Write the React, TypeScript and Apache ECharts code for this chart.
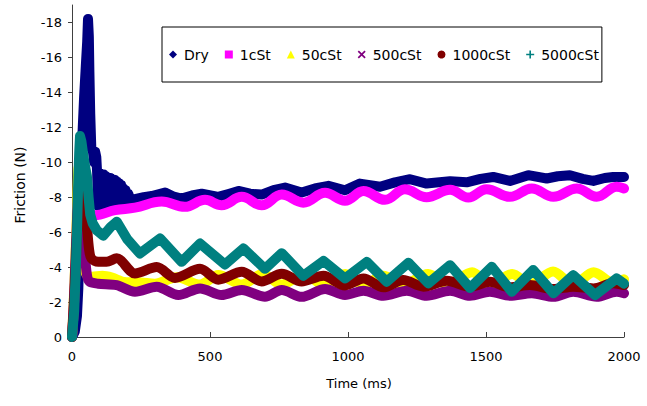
import React, { useEffect, useRef } from "react";
import * as echarts from "echarts";

const seriesNames = ["Dry", "1cSt", "50cSt", "500cSt", "1000cSt", "5000cSt"];
const seriesColors = ["#000080", "#FF00FF", "#FFFF00", "#800080", "#800000", "#008080"];
const seriesSmooth = [0, 0.4, 0.3, 0.3, 0.3, 0];
const X_ICON = "path://M0,1.5L1.5,0L5,3.5L8.5,0L10,1.5L6.5,5L10,8.5L8.5,10L5,6.5L1.5,10L0,8.5L3.5,5Z";
const PLUS_ICON = "path://M4,0H6V4H10V6H6V10H4V6H0V4H4Z";
const legendIcons = ["diamond", "rect", "triangle", X_ICON, "circle", PLUS_ICON];

const xTicks = [0, 500, 1000, 1500, 2000];
const yTicks = [0, -2, -4, -6, -8, -10, -12, -14, -16, -18];

// [time (ms), friction (N)]
const dry: [number, number][] = [
  [0, 0], [10, -0.3], [18, -1.2], [23, -2.8], [27, -5.5], [31, -8.3], [35, -10.5], [39, -12], [44, -13.8],
  [50, -15.5], [55, -16.9], [58, -18.2], [61, -17.2], [63, -15.2], [66, -12.8], [70, -10.8], [76, -10.6],
  [80, -10.0], [84, -10.6], [88, -10.3], [91, -9.4], [94, -7.5], [98, -9.4], [102, -7.5], [106, -9.3],
  [110, -7.5], [114, -9.3], [118, -7.5], [122, -9.2], [126, -7.5], [130, -9.1], [134, -7.5], [138, -9.1],
  [142, -7.6], [146, -9.0], [150, -7.6], [154, -9.0], [158, -7.6], [162, -8.9], [166, -7.6], [170, -8.8],
  [174, -7.7], [178, -8.7], [182, -7.7], [186, -8.5], [190, -7.7], [194, -8.4], [198, -7.8], [204, -8.2],
  [212, -7.8], [228, -7.89], [260, -8.0], [289, -8.07], [337, -8.27], [365, -8.05], [397, -7.92],
  [435, -8.1], [470, -8.2], [530, -8.02], [570, -8.2], [603, -8.36], [645, -8.2], [687, -8.15],
  [730, -8.4], [772, -8.55], [832, -8.27], [880, -8.5], [929, -8.65], [989, -8.4], [1043, -8.78],
  [1116, -8.6], [1170, -8.85], [1225, -9.03], [1285, -8.78], [1370, -8.92], [1430, -8.85], [1480, -9.05],
  [1526, -9.16], [1587, -8.93], [1653, -9.26], [1720, -9.07], [1760, -9.2], [1804, -9.26], [1850, -9.05],
  [1889, -8.93], [1930, -9.1], [1961, -9.16], [2000, -9.16],
];

const cSt1: [number, number][] = [
  [0, 0], [6, -1.5], [12, -3.5], [17, -5.5], [22, -7.2], [27, -8.2], [33, -8.0], [42, -7.5], [55, -7.1],
  [83, -6.97], [156, -7.26], [228, -7.4], [325, -7.75], [409, -7.45], [482, -7.85], [542, -7.54],
  [615, -8.02], [687, -7.54], [760, -8.15], [838, -7.69], [917, -8.25], [989, -7.8], [1056, -8.35],
  [1134, -7.85], [1206, -8.45], [1285, -8.0], [1370, -8.42], [1436, -7.98], [1502, -8.46], [1587, -8.02],
  [1666, -8.5], [1744, -8.02], [1829, -8.5], [1901, -8.02], [1973, -8.6], [2000, -8.5],
];

const cSt50: [number, number][] = [
  [0, 0], [6, -2], [11, -4], [16, -6.2], [20, -8.3], [24, -9.7], [28, -9.1], [33, -7.3], [38, -5.5],
  [44, -4.2], [52, -3.6], [72, -3.45], [110, -3.5], [145, -3.4], [190, -3.15], [250, -3.12], [300, -3.05],
  [380, -3.42], [464, -3.0], [530, -3.55], [615, -3.0], [690, -3.6], [760, -3.0], [840, -3.6], [911, -3.0],
  [990, -3.6], [1056, -3.0], [1128, -3.5], [1200, -3.0], [1290, -3.6], [1358, -3.0], [1450, -3.7],
  [1514, -3.0], [1595, -3.6], [1659, -3.0], [1743, -3.75], [1816, -3.0], [1890, -3.7], [1961, -3.1],
  [2000, -3.3],
];

const cSt500: [number, number][] = [
  [0, 0], [6, -1.8], [11, -3.8], [16, -5.8], [20, -7.4], [24, -8.2], [30, -7.8], [37, -6.6], [44, -5.2],
  [50, -4.1], [56, -3.4], [65, -3.15], [95, -3.05], [162, -2.97], [228, -2.59], [307, -2.88], [385, -2.4],
  [464, -2.78], [542, -2.4], [615, -2.69], [699, -2.3], [760, -2.69], [832, -2.3], [917, -2.75],
  [989, -2.4], [1056, -2.65], [1128, -2.36], [1213, -2.65], [1285, -2.36], [1370, -2.65], [1442, -2.36],
  [1514, -2.59], [1587, -2.36], [1666, -2.5], [1744, -2.3], [1816, -2.59], [1901, -2.3], [1973, -2.59],
  [2000, -2.5],
];

const cSt1000: [number, number][] = [
  [0, 0], [6, -1.5], [12, -3.5], [17, -5.5], [22, -7.5], [26, -9.0], [30, -9.9], [35, -9.7], [41, -9.1],
  [48, -7.8], [55, -6.2], [62, -5.0], [70, -4.5], [95, -4.3], [125, -4.3], [162, -4.5], [228, -3.64],
  [307, -4.0], [373, -3.38], [464, -3.9], [530, -3.28], [615, -3.73], [687, -3.18], [760, -3.62],
  [832, -3.18], [911, -3.5], [989, -2.95], [1056, -3.35], [1128, -2.84], [1200, -3.26], [1273, -2.88],
  [1358, -3.22], [1442, -2.88], [1514, -3.16], [1587, -2.84], [1659, -2.97], [1744, -2.74], [1816, -2.88],
  [1889, -2.78], [1961, -3.07], [2000, -2.97],
];

const cSt5000: [number, number][] = [
  [0, 0], [8, -1.5], [13, -3.5], [18, -6], [22, -8.5], [26, -10.5], [29, -11.5], [34, -11.2], [40, -10.5],
  [48, -9.7], [54, -9.2], [60, -8.0], [66, -7.0], [75, -6.5], [90, -6.1], [113, -5.8], [140, -6.3],
  [162, -6.6], [200, -5.6], [246, -4.78], [319, -5.64], [397, -4.3], [464, -5.35], [554, -4.15],
  [621, -5.07], [699, -3.9], [760, -4.8], [838, -3.5], [911, -4.35], [989, -3.35], [1068, -4.3],
  [1140, -3.16], [1219, -4.25], [1291, -3.07], [1370, -4.11], [1442, -2.8], [1521, -4.02], [1593, -2.59],
  [1671, -3.83], [1744, -2.5], [1816, -3.54], [1895, -2.4], [1973, -3.35], [2000, -3.05],
];

const allData = [dry, cSt1, cSt50, cSt500, cSt1000, cSt5000];

const FONT = "DejaVu Sans";

export default function App() {
  const ref = useRef<HTMLDivElement>(null);
  useEffect(() => {
    if (!ref.current) return;
    const chart = echarts.init(ref.current, null, { renderer: "svg" });
    chart.setOption({
      animation: false,
      backgroundColor: "#ffffff",
      grid: { left: 72, right: 23, top: 5, bottom: 69, containLabel: false },
      legend: {
        left: 162,
        top: 27,
        orient: "horizontal",
        backgroundColor: "#ffffff",
        borderColor: "#000000",
        borderWidth: 1,
        borderRadius: 0,
        padding: [20, 3, 20, 7],
        itemWidth: 8,
        itemHeight: 8,
        itemGap: 16,
        textStyle: { fontFamily: FONT, fontSize: 14, color: "#000", lineHeight: 15, padding: [0, 0, 0, 2] },
        data: seriesNames.map((n, i) => ({ name: n, icon: legendIcons[i], itemStyle: { color: seriesColors[i], borderWidth: 0 } })),
      },
      xAxis: {
        type: "value",
        min: 0,
        max: 2000,
        interval: 500,
        name: "Time (ms)",
        nameLocation: "middle",
        nameGap: 40,
        nameTextStyle: { fontFamily: FONT, fontSize: 13, color: "#000", padding: [0, 0, 0, 22] },
        axisLine: { show: true, onZero: false, lineStyle: { color: "#404040", width: 1 } },
        axisTick: { show: true, inside: true, length: 5, lineStyle: { color: "#404040" }, customValues: xTicks },
        axisLabel: {
          fontFamily: FONT, fontSize: 13, color: "#000", margin: 13, customValues: xTicks,
          formatter: (v: number) => String(v),
        },
        splitLine: { show: false },
      },
      yAxis: {
        type: "value",
        inverse: true,
        min: -19,
        max: 0,
        name: "Friction (N)",
        nameLocation: "middle",
        nameGap: 45,
        nameRotate: 90,
        nameTextStyle: { fontFamily: FONT, fontSize: 14, color: "#000", padding: [0, 28, 0, 0] },
        axisLine: { show: true, onZero: false, lineStyle: { color: "#404040", width: 1 } },
        axisTick: { show: true, inside: false, length: 4, lineStyle: { color: "#404040" }, customValues: yTicks },
        axisLabel: {
          fontFamily: FONT, fontSize: 13, color: "#000", margin: 10, customValues: yTicks,
          formatter: (v: number) => String(v),
        },
        splitLine: { show: false },
      },
      series: seriesNames.map((n, i) => ({
        name: n,
        type: "line",
        data: allData[i],
        showSymbol: false,
        symbol: "none",
        smooth: seriesSmooth[i],
        color: seriesColors[i],
        itemStyle: { color: seriesColors[i] },
        lineStyle: { width: 10, color: seriesColors[i], join: "round", cap: "round" },
        emphasis: { disabled: true },
        z: 2 + i,
      })),
    });
    return () => chart.dispose();
  }, []);
  return <div ref={ref} style={{ width: 647, height: 406, position: "absolute", left: 0, top: 0 }} />;
}
